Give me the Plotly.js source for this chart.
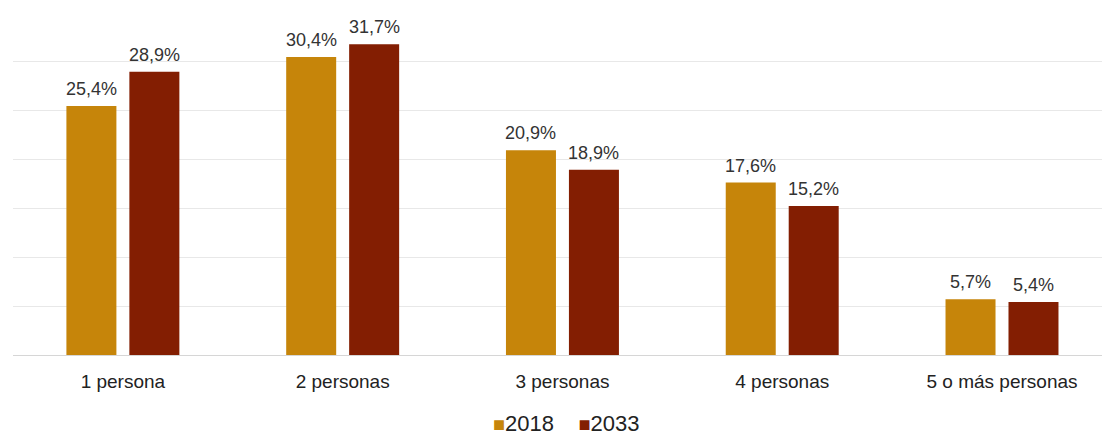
<!DOCTYPE html>
<html>
<head>
<meta charset="utf-8">
<script src="https://cdn.plot.ly/plotly-3.0.1.min.js"></script>
<style>html,body{margin:0;padding:0;background:#fff;}#chart{width:1102px;height:439px;}</style>
</head>
<body>
<div id="chart"></div>
<script>
const categories = ["1 persona", "2 personas", "3 personas", "4 personas", "5 o más personas"];
const values2018 = [25.4, 30.4, 20.9, 17.6, 5.7];
const values2033 = [28.9, 31.7, 18.9, 15.2, 5.4];
const seriesNames = ["2018", "2033"];
const seriesColors = ['#C6850A', '#831E02'];

const FONT = 'Liberation Sans, Arial, sans-serif';
const fmt = v => v.toFixed(1).replace('.', ',') + '%';

const mk = (name, vals, color) => ({
  type: 'bar', name: name, x: categories, y: vals,
  marker: {color: color},
  hoverinfo: 'skip'
});

const data = [
  mk(seriesNames[0], values2018, seriesColors[0]),
  mk(seriesNames[1], values2033, seriesColors[1])
];

const annotations = [];
[values2018, values2033].forEach((vals, si) => {
  vals.forEach((v, i) => {
    annotations.push({
      x: categories[i], y: v, xref: 'x', yref: 'y',
      text: fmt(v), showarrow: false,
      xanchor: 'center', yanchor: 'bottom',
      xshift: si === 0 ? -31.5 : 31.5, yshift: 5,
      font: {family: FONT, size: 18, color: '#333'}
    });
  });
});

// legend built as text
annotations.push({
  xref: 'paper', yref: 'paper', x: 0.508, y: -0.2, xanchor: 'center', yanchor: 'middle',
  showarrow: false,
  text: '<span style="color:' + seriesColors[0] + ';font-size:20px">■</span>' + seriesNames[0] +
        '\u00a0\u00a0\u00a0\u00a0<span style="color:' + seriesColors[1] + ';font-size:20px">■</span>' + seriesNames[1],
  font: {family: FONT, size: 22, color: '#222'}
});

const layout = {
  width: 1102, height: 439,
  margin: {l: 13, r: 0, t: 12, b: 84},
  paper_bgcolor: '#fff', plot_bgcolor: '#fff',
  barmode: 'group', bargap: 0.427, bargroupgap: 0.206,
  font: {family: FONT, color: '#222'},
  xaxis: {
    type: 'category', range: [-0.5, 4.455], showgrid: false, showline: false,
    ticks: '', tickfont: {size: 19, color: '#222'}, automargin: false, ticklabelstandoff: 13
  },
  yaxis: {
    range: [0, 35], dtick: 5, showticklabels: false, showgrid: true,
    gridcolor: '#e8e8e8', gridwidth: 1, zeroline: true, zerolinecolor: '#d6d6d6', zerolinewidth: 1,
    automargin: false
  },
  showlegend: false,
  annotations: annotations
};

Plotly.newPlot('chart', data, layout, {displayModeBar: false, staticPlot: true});
</script>
</body>
</html>
